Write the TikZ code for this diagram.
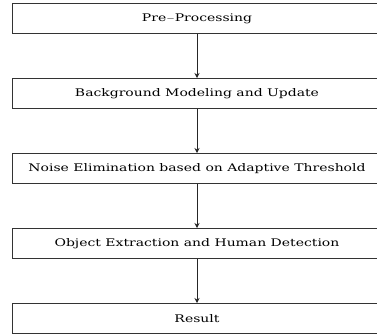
\documentclass[tikz,border=0pt]{standalone}
\usepackage{fontspec}
\setmainfont{DejaVu Serif}[FakeStretch=1.33]
\usetikzlibrary{positioning,arrows.meta}

\begin{document}
\begin{tikzpicture}[>={Stealth[length=5pt,width=5pt]},
    stage/.style={draw=black!80, line width=1pt, minimum width=370pt,
      minimum height=30pt, inner sep=0pt, font=\fontsize{10.5}{12}\selectfont},
    flow/.style={->, draw=black!85, line width=0.9pt},
    node distance=44pt]
  \useasboundingbox (0,0) rectangle (377pt,-333pt);
  % processing stages, top to bottom
  \node[stage] (pre) at (197pt,-18.5pt) {Pre$-$Processing};
  \node[stage, below=of pre] (bg) {Background Modeling and Update};
  \node[stage, below=of bg] (noise) {Noise Elimination based on Adaptive Threshold};
  \node[stage, below=of noise] (obj) {Object Extraction and Human Detection};
  \node[stage, below=of obj] (res) {Result};
  % arrows between stages
  \draw[flow] (pre) -- (bg);
  \draw[flow] (bg) -- (noise);
  \draw[flow] (noise) -- (obj);
  \draw[flow] (obj) -- (res);
\end{tikzpicture}
\end{document}
